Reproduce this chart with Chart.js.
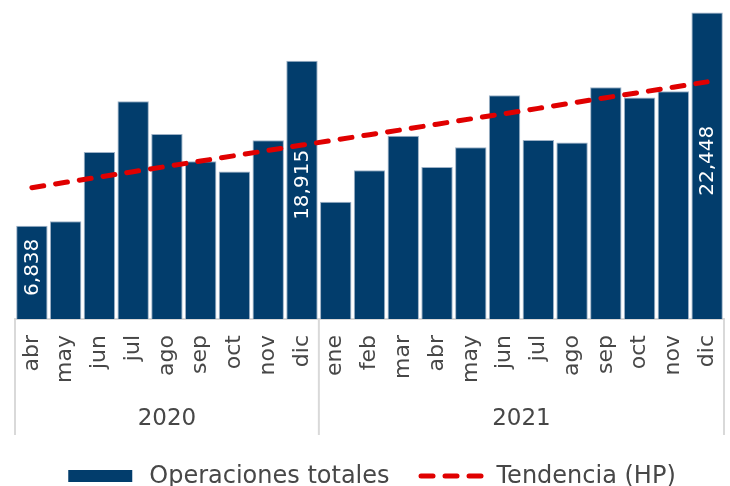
<!DOCTYPE html>
<html lang="es">
<head>
<meta charset="utf-8">
<title>Operaciones totales</title>
<script src="https://cdn.jsdelivr.net/npm/chart.js@4.4.1/dist/chart.umd.min.js"></script>
<style>
  html, body { margin: 0; padding: 0; background: #fff; }
  #contenedor { width: 730px; height: 486px; }
</style>
</head>
<body>
<div id="contenedor"><canvas id="grafico"></canvas></div>
<script>
// --- DATOS ---
const meses = ['abr', 'may', 'jun', 'jul', 'ago', 'sep', 'oct', 'nov', 'dic',
               'ene', 'feb', 'mar', 'abr', 'may', 'jun', 'jul', 'ago', 'sep', 'oct', 'nov', 'dic'];
const anios = ['2020', '2021'];
const mesesPorAnio = [9, 12];
const operaciones = [6838, 7160, 12240, 15950, 13560, 11560, 10800, 13100, 18915,
                     8580, 10900, 13430, 11140, 12580, 16390, 13120, 12920, 16980, 16220, 16690, 22448];
const tendencia = [9620, 10010, 10400, 10790, 11180, 11570, 11960, 12350, 12740,
                   13120, 13500, 13880, 14270, 14660, 15040, 15430, 15820, 16210, 16590, 16980, 17370];
const indicesEtiqueta = [0, 8, 20];

// --- ESTILO ---
const AZUL = '#023d6c';
const ROJO = '#e00000';
const GRIS_TEXTO = '#474747';
const GRIS_LINEA = '#d9d9d9';
const FUENTE = "'DejaVu Sans', sans-serif";

// separadores de año + etiquetas de año
const separadores = {
  id: 'separadores',
  afterDraw(chart) {
    const { ctx, chartArea, scales: { x } } = chart;
    const paso = x.getPixelForValue(1) - x.getPixelForValue(0);
    const borde = k => x.getPixelForValue(k) - paso / 2;
    ctx.save();
    ctx.strokeStyle = GRIS_LINEA;
    ctx.lineWidth = 2;
    ctx.fillStyle = GRIS_TEXTO;
    ctx.font = '23px ' + FUENTE;
    ctx.textAlign = 'center';
    ctx.textBaseline = 'middle';
    let k = 0;
    const bordes = [0];
    anios.forEach((anio, i) => {
      const ini = k;
      k += mesesPorAnio[i];
      bordes.push(k);
      ctx.fillText(anio, (borde(ini) + borde(k)) / 2, 419);
    });
    bordes.forEach(b => {
      ctx.beginPath();
      ctx.moveTo(borde(b), chartArea.bottom);
      ctx.lineTo(borde(b), 435);
      ctx.stroke();
    });
    ctx.restore();
  }
};

// etiquetas de valor dentro de las barras
const etiquetas = {
  id: 'etiquetas',
  afterDatasetsDraw(chart) {
    const { ctx } = chart;
    const meta = chart.getDatasetMeta(0);
    ctx.save();
    ctx.fillStyle = '#ffffff';
    ctx.font = '20px ' + FUENTE;
    ctx.textAlign = 'center';
    ctx.textBaseline = 'middle';
    indicesEtiqueta.forEach(i => {
      const barra = meta.data[i];
      ctx.save();
      ctx.translate(barra.x + 1, (barra.y + barra.base) / 2 - 5);
      ctx.rotate(-Math.PI / 2);
      ctx.fillText(operaciones[i].toLocaleString('en-US'), 0, 0);
      ctx.restore();
    });
    ctx.restore();
  }
};

// leyenda abajo
const leyenda = {
  id: 'leyenda',
  afterDraw(chart) {
    const { ctx } = chart;
    const ds = chart.data.datasets;
    const y = 476;
    ctx.save();
    ctx.font = '24px ' + FUENTE;
    ctx.textBaseline = 'middle';
    const w1 = ctx.measureText(ds[0].label).width;
    const w2 = ctx.measureText(ds[1].label).width;
    const total = 64 + 17 + w1 + 29 + 65 + 13 + w2;
    let x = 372 - total / 2;
    ctx.fillStyle = ds[0].backgroundColor;
    ctx.fillRect(x, y - 6, 64, 12);
    x += 64 + 17;
    ctx.fillStyle = GRIS_TEXTO;
    ctx.fillText(ds[0].label, x, y + 1);
    x += w1 + 29;
    ctx.strokeStyle = ds[1].borderColor;
    ctx.lineWidth = ds[1].borderWidth;
    ctx.lineCap = 'round';
    ctx.setLineDash(ds[1].borderDash);
    ctx.beginPath();
    ctx.moveTo(x + 2.5, y);
    ctx.lineTo(x + 62.5, y);
    ctx.stroke();
    ctx.setLineDash([]);
    x += 65 + 13;
    ctx.fillText(ds[1].label, x, y + 1);
    ctx.restore();
  }
};

new Chart(document.getElementById('grafico'), {
  data: {
    labels: meses,
    datasets: [
      {
        type: 'bar',
        label: 'Operaciones totales',
        data: operaciones,
        backgroundColor: AZUL,
        borderColor: '#9db1c6',
        borderWidth: 1,
        barPercentage: 0.93,
        categoryPercentage: 1,
        order: 1
      },
      {
        type: 'line',
        label: 'Tendencia (HP)',
        data: tendencia,
        borderColor: ROJO,
        borderWidth: 5,
        borderDash: [12, 12],
        borderCapStyle: 'round',
        pointRadius: 0,
        tension: 0,
        fill: false,
        order: 0
      }
    ]
  },
  options: {
    responsive: true,
    maintainAspectRatio: false,
    animation: false,
    layout: { padding: { top: 5, left: 15, right: 6, bottom: 51 } },
    plugins: {
      legend: { display: false },
      tooltip: { enabled: false }
    },
    scales: {
      x: {
        grid: { display: false, drawTicks: false },
        border: { display: true, color: GRIS_LINEA, width: 2 },
        ticks: {
          autoSkip: false,
          minRotation: 90,
          maxRotation: 90,
          padding: 16,
          color: GRIS_TEXTO,
          font: { family: FUENTE, size: 22 }
        },
        afterFit(scale) {
          scale.height = 116;
          scale.paddingLeft = 0;
          scale.paddingRight = 0;
        }
      },
      y: {
        display: false,
        min: 0,
        max: 23000
      }
    }
  },
  plugins: [separadores, etiquetas, leyenda]
});
</script>
</body>
</html>
